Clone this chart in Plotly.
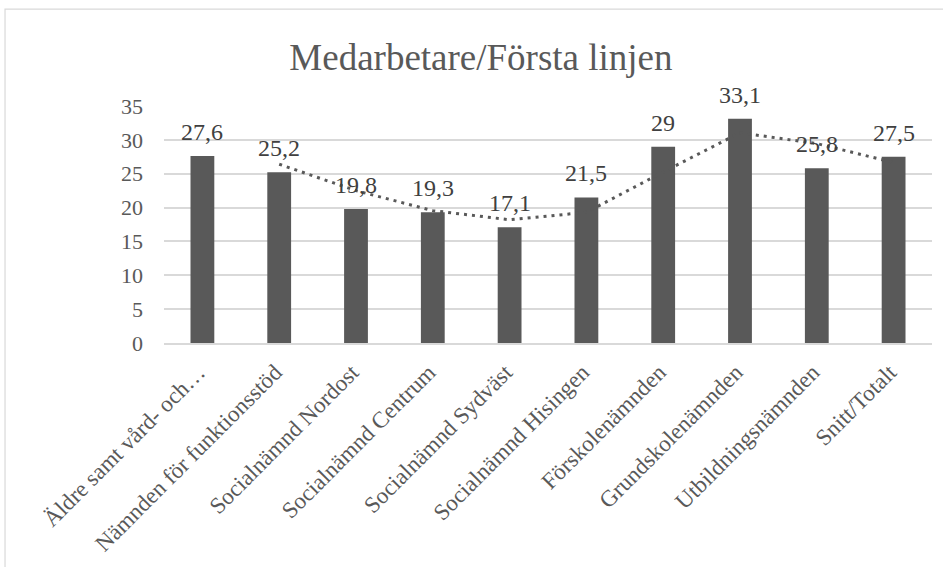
import plotly.graph_objects as go

categories = ["Äldre samt vård- och…", "Nämnden för funktionsstöd", "Socialnämnd Nordost",
              "Socialnämnd Centrum", "Socialnämnd Sydväst", "Socialnämnd Hisingen",
              "Förskolenämnden", "Grundskolenämnden", "Utbildningsnämnden", "Snitt/Totalt"]
values = [27.6, 25.2, 19.8, 19.3, 17.1, 21.5, 29, 33.1, 25.8, 27.5]
value_labels = ["27,6", "25,2", "19,8", "19,3", "17,1", "21,5", "29", "33,1", "25,8", "27,5"]
y_ticks = [0, 5, 10, 15, 20, 25, 30, 35]

# 2-period moving average trendline (as in the original chart)
trend_x = categories[1:]
trend_y = [(values[i - 1] + values[i]) / 2 for i in range(1, len(values))]

FONT = "Liberation Serif"
GREY = "#595959"

fig = go.Figure()
fig.add_trace(go.Bar(x=categories, y=values, marker=dict(color=GREY, line=dict(width=0)),
                     hoverinfo="skip", showlegend=False))
fig.add_trace(go.Scatter(x=trend_x, y=trend_y, mode="lines",
                         line=dict(color=GREY, width=3, dash="3px,5px"),
                         hoverinfo="skip", showlegend=False))

for c, v, t in zip(categories, values, value_labels):
    fig.add_annotation(x=c, y=v, text=t, showarrow=False, yanchor="bottom", yshift=9,
                       font=dict(family=FONT, size=24, color="#404040"))

fig.add_shape(type="rect", xref="paper", yref="paper", x0=-0.207, x1=1.2, y0=-1.2, y1=1.409,
              line=dict(color="#d9d9d9", width=1.2), fillcolor="rgba(0,0,0,0)", layer="below")

fig.update_layout(
    width=943, height=567,
    margin=dict(l=164, r=11, t=106, b=224),
    paper_bgcolor="white", plot_bgcolor="white",
    bargap=0.69,
    title=dict(text="Medarbetare/Första linjen", x=0.51, xref="container", xanchor="center",
               y=1 - 57 / 567, yref="container", yanchor="middle",
               font=dict(family=FONT, size=37, color=GREY)),
    font=dict(family=FONT, color=GREY),
    xaxis=dict(tickangle=-45, tickfont=dict(family=FONT, size=23, color=GREY),
               showgrid=False, showline=True, linecolor="#d9d9d9", linewidth=1.5,
               ticks="", fixedrange=True, automargin=False,
               ticklabelstandoff=5, ticklabelshift=-4),
    yaxis=dict(range=[0, 35], tickvals=y_ticks, ticktext=[str(v) for v in y_ticks],
               tickfont=dict(family=FONT, size=22, color=GREY),
               showgrid=True, gridcolor="#d9d9d9", gridwidth=1.5, zeroline=False,
               showline=False, ticks="", ticklabelstandoff=20, fixedrange=True,
               automargin=False),
)

fig.write_html("out.html", config={"displayModeBar": False},
               post_script="document.body.style.margin='0';")
